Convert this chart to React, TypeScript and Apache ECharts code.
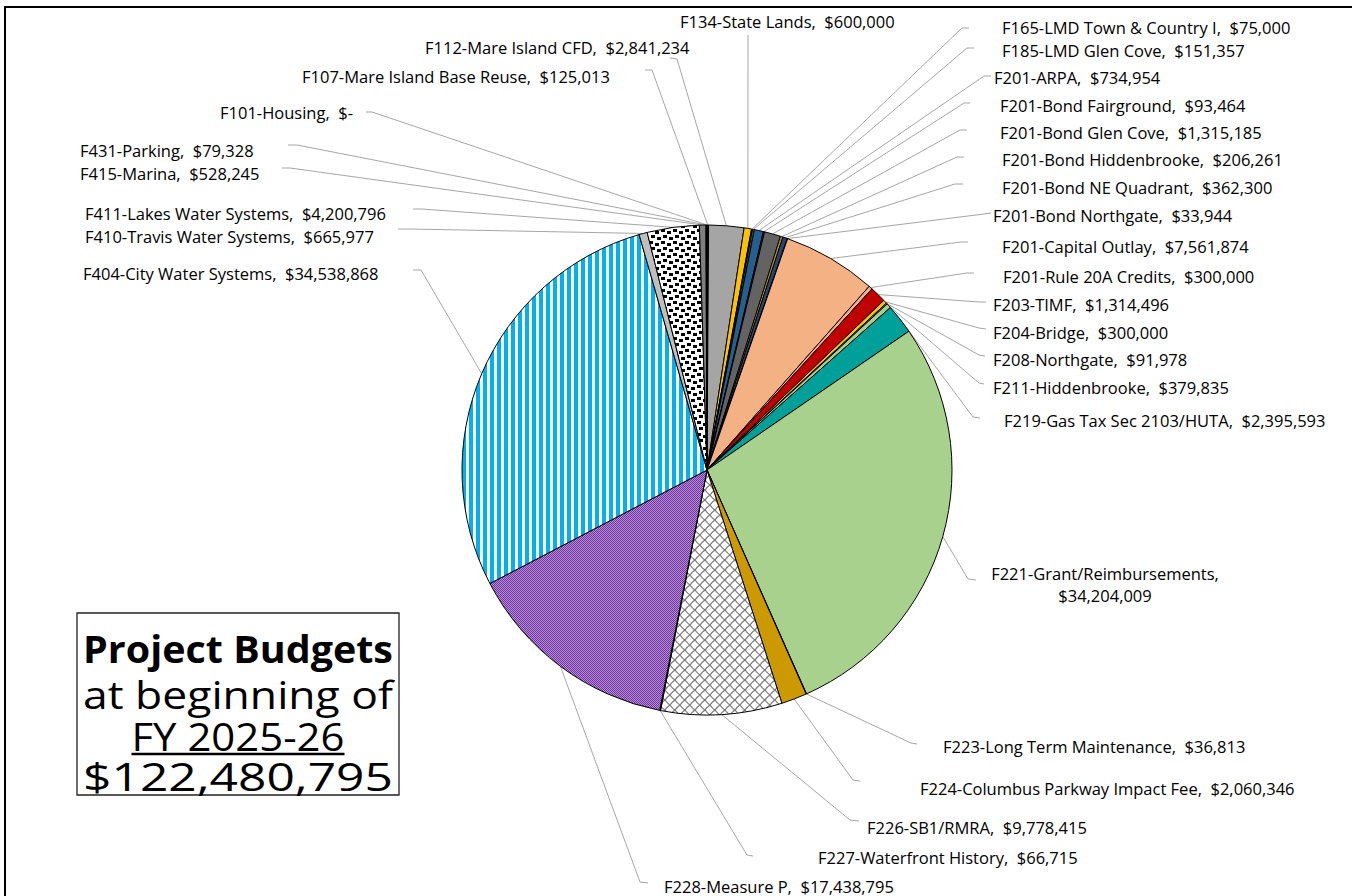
import React, { useEffect, useRef } from 'react';
import * as echarts from 'echarts';

// ---------- data ----------
const categories = [
  'F101-Housing',
  'F107-Mare Island Base Reuse',
  'F112-Mare Island CFD',
  'F134-State Lands',
  'F165-LMD Town & Country I',
  'F185-LMD Glen Cove',
  'F201-ARPA',
  'F201-Bond Fairground',
  'F201-Bond Glen Cove',
  'F201-Bond Hiddenbrooke',
  'F201-Bond NE Quadrant',
  'F201-Bond Northgate',
  'F201-Capital Outlay',
  'F201-Rule 20A Credits',
  'F203-TIMF',
  'F204-Bridge',
  'F208-Northgate',
  'F211-Hiddenbrooke',
  'F219-Gas Tax Sec 2103/HUTA',
  'F221-Grant/Reimbursements',
  'F223-Long Term Maintenance',
  'F224-Columbus Parkway Impact Fee',
  'F226-SB1/RMRA',
  'F227-Waterfront History',
  'F228-Measure P',
  'F404-City Water Systems',
  'F410-Travis Water Systems',
  'F411-Lakes Water Systems',
  'F415-Marina',
  'F431-Parking',
];

const values = [
  0, 125013, 2841234, 600000, 75000, 151357, 734954, 93464, 1315185, 206261,
  362300, 33944, 7561874, 300000, 1314496, 300000, 91978, 379835, 2395593,
  34204009, 36813, 2060346, 9778415, 66715, 17438795, 34538868, 665977,
  4200796, 528245, 79328,
];

const titleLines = ['Project Budgets', 'at beginning of', 'FY 2025-26', '$122,480,795'];

// ---------- styles / positions (not data) ----------
const sliceFills = [
  '#5B9BD5', '#262626', '#A5A5A5', '#FFC000', '#4472C4', '#43682B', '#255E91',
  '#9E480E', '#636363', '#BF9000', '#264478', '#43682B', '#F4B183', '#F4B183',
  '#C00000', '#FFC000', '#70AD47', '#A9D18E', '#00A09A', '#A9D18E', '#5B9BD5',
  '#CC9900', 'pattern:shingle', '#7F7F7F', 'pattern:checker', 'pattern:stripes',
  '#BFBFBF', 'pattern:confetti', '#7F7F7F', '#000000',
];

// [labelX, labelY, elbowX, elbowY, endX, endY, align]
const labelPlacement: [number, number, number, number, number, number, string][] = [
  [220, 112, 372, 112, 366, 112, 'left'],
  [302, 76, 652, 70, 645, 70, 'left'],
  [425, 47, 677, 59, 670, 58, 'left'],
  [680, 21, 748, 35, 748, 35, 'left'],
  [1002, 27, 962, 28, 969, 28, 'left'],
  [1002, 50, 967, 48, 974, 48, 'left'],
  [994, 77, 984, 76, 991, 76, 'left'],
  [1000, 105, 964, 103, 970, 103, 'left'],
  [1000, 132, 960, 130, 967, 130, 'left'],
  [1002, 159, 957, 157, 964, 157, 'left'],
  [1002, 187, 955, 184, 963, 184, 'left'],
  [993, 215, 984, 214, 991, 213, 'left'],
  [1002, 246, 961, 242, 968, 242, 'left'],
  [1003, 276, 967, 273, 974, 273, 'left'],
  [993, 304, 979, 302, 986, 302, 'left'],
  [993, 332, 979, 328, 986, 329, 'left'],
  [993, 359, 979, 355, 985, 356, 'left'],
  [993, 387, 979, 383, 984, 384, 'left'],
  [1004, 420, 973, 417, 980, 418, 'left'],
  [1105, 584, 968, 579, 976, 580, 'center'],
  [943, 746, 911, 743, 917, 744, 'left'],
  [920, 788, 853, 780, 860, 781, 'left'],
  [867, 827, 850, 820, 859, 821, 'left'],
  [818, 857, 747, 855, 753, 856, 'left'],
  [664, 886, 640, 882, 648, 883, 'left'],
  [83, 273, 421, 270, 413, 270, 'left'],
  [85, 236, 410, 229, 398, 229, 'left'],
  [85, 213, 422, 209, 413, 209, 'left'],
  [80, 173, 290, 168, 282, 168, 'left'],
  [80, 150, 297, 145, 288, 145, 'left'],
];

const titleCenterX = 238;
const titleLineY = [648, 694, 736, 776];
const titleTargetW = [310, 310, 213, 310];
const titleWeights = ['bold', 'normal', 'normal', 'normal'];
const titleFontSize = 38;
const labelFontSize = 16.5;
const FONT = '"Open Sans", "Noto Sans", sans-serif';

function tile(w: number, h: number, draw: (ctx: CanvasRenderingContext2D) => void) {
  const c = document.createElement('canvas');
  c.width = w;
  c.height = h;
  const ctx = c.getContext('2d') as CanvasRenderingContext2D;
  draw(ctx);
  return { image: c, repeat: 'repeat', imageWidth: w, imageHeight: h } as any;
}

function makePatterns() {
  const stripes = tile(7, 7, (ctx) => {
    ctx.fillStyle = '#00B0F0';
    ctx.fillRect(0, 0, 7, 7);
    ctx.fillStyle = '#FFFFFF';
    ctx.fillRect(4, 0, 3, 7);
  });
  const checker = tile(2, 2, (ctx) => {
    ctx.fillStyle = '#7030A0';
    ctx.fillRect(0, 0, 2, 2);
    ctx.fillStyle = '#B592D6';
    ctx.fillRect(1, 0, 1, 1);
    ctx.fillRect(0, 1, 1, 1);
  });
  const shingle = tile(10, 10, (ctx) => {
    ctx.fillStyle = '#FFFFFF';
    ctx.fillRect(0, 0, 10, 10);
    ctx.strokeStyle = '#7A7A7A';
    ctx.lineWidth = 1.2;
    ctx.beginPath();
    ctx.moveTo(0, 5);
    ctx.quadraticCurveTo(2.5, 1.5, 5, 0);
    ctx.moveTo(5, 10);
    ctx.quadraticCurveTo(7.5, 6.5, 10, 5);
    ctx.moveTo(0, 5);
    ctx.quadraticCurveTo(2.5, 8.5, 5, 10);
    ctx.moveTo(5, 0);
    ctx.quadraticCurveTo(7.5, 3.5, 10, 5);
    ctx.stroke();
  });
  const confetti = tile(12, 12, (ctx) => {
    ctx.fillStyle = '#FFFFFF';
    ctx.fillRect(0, 0, 12, 12);
    ctx.fillStyle = '#000000';
    ctx.fillRect(1, 1, 4, 3);
    ctx.fillRect(7, 3, 4, 3);
    ctx.fillRect(3, 7, 4, 3);
    ctx.fillRect(9, 9, 3, 3);
    ctx.fillRect(0, 9, 1, 3);
  });
  return { stripes, checker, shingle, confetti } as Record<string, any>;
}

function fmtMoney(v: number) {
  return v === 0 ? '$-' : '$' + v.toLocaleString('en-US');
}

export default function App() {
  const ref = useRef<HTMLDivElement>(null);

  useEffect(() => {
    const el = ref.current as HTMLDivElement;
    const chart = echarts.init(el, null, { renderer: 'svg' });
    const patterns = makePatterns();

    const mctx = document.createElement('canvas').getContext('2d') as CanvasRenderingContext2D;
    const measure = (t: string, weight: string, size: number) => {
      mctx.font = `${weight} ${size}px "Open Sans"`;
      return mctx.measureText(t).width;
    };

    const data = categories.map((name, i) => {
      const f = sliceFills[i];
      const color = f.startsWith('pattern:') ? patterns[f.slice(8)] : f;
      return { name, value: values[i], itemStyle: { color } };
    });

    const titleGraphics: any[] = titleLines.map((t, i) => {
      const w = measure(t, titleWeights[i], titleFontSize);
      const sx = w > 0 ? titleTargetW[i] / w : 1;
      return {
        type: 'text',
        x: titleCenterX,
        y: titleLineY[i],
        scaleX: sx,
        z: 10,
        style: {
          text: t,
          x: 0,
          y: 0,
          align: 'center',
          verticalAlign: 'middle',
          fontFamily: FONT,
          fontSize: titleFontSize,
          fontWeight: titleWeights[i],
          fill: '#000',
        },
      };
    });

    const option: any = {
      animation: false,
      backgroundColor: '#FFFFFF',
      graphic: [
        {
          type: 'rect',
          shape: { x: 5, y: 7, width: 1400, height: 1000 },
          style: { fill: 'none', stroke: '#000', lineWidth: 2 },
          silent: true,
        },
        {
          type: 'rect',
          shape: { x: 77, y: 613, width: 322, height: 182 },
          style: { fill: '#fff', stroke: '#222', lineWidth: 1.3 },
          z: 5,
        },
        ...titleGraphics,
        {
          type: 'line',
          shape: {
            x1: titleCenterX - titleTargetW[2] / 2,
            y1: titleLineY[2] + 18,
            x2: titleCenterX + titleTargetW[2] / 2,
            y2: titleLineY[2] + 18,
          },
          style: { stroke: '#000', lineWidth: 2.5 },
          z: 10,
        },
      ],
      series: [
        {
          type: 'pie',
          center: [707, 470],
          radius: 245,
          startAngle: 90,
          clockwise: true,
          avoidLabelOverlap: false,
          minShowLabelAngle: 0,
          data,
          itemStyle: { borderColor: '#000', borderWidth: 1 },
          emphasis: { disabled: true },
          label: {
            show: true,
            position: 'outside',
            fontFamily: FONT,
            fontSize: labelFontSize,
            color: '#000',
            lineHeight: 22,
            formatter: (p: any) => {
              const lp = labelPlacement[p.dataIndex];
              const sep = lp[6] === 'center' ? ',\n' : ',  ';
              return p.name + sep + fmtMoney(p.value);
            },
          },
          labelLine: {
            show: true,
            lineStyle: { color: '#A6A6A6', width: 1 },
          },
          labelLayout: (params: any) => {
            const lp = labelPlacement[params.dataIndex];
            const pts = params.labelLinePoints;
            const start = pts && pts[0] ? [pts[0][0], pts[0][1]] : [lp[2], lp[3]];
            return {
              x: lp[0],
              y: lp[1],
              align: lp[6],
              verticalAlign: 'middle',
              labelLinePoints: [start, [lp[2], lp[3]], [lp[4], lp[5]]],
            };
          },
        },
      ],
    };

    chart.setOption(option);
    return () => chart.dispose();
  }, []);

  return (
    <div
      ref={ref}
      style={{ position: 'fixed', left: 0, top: 0, width: 1352, height: 896, background: '#fff' }}
    />
  );
}
